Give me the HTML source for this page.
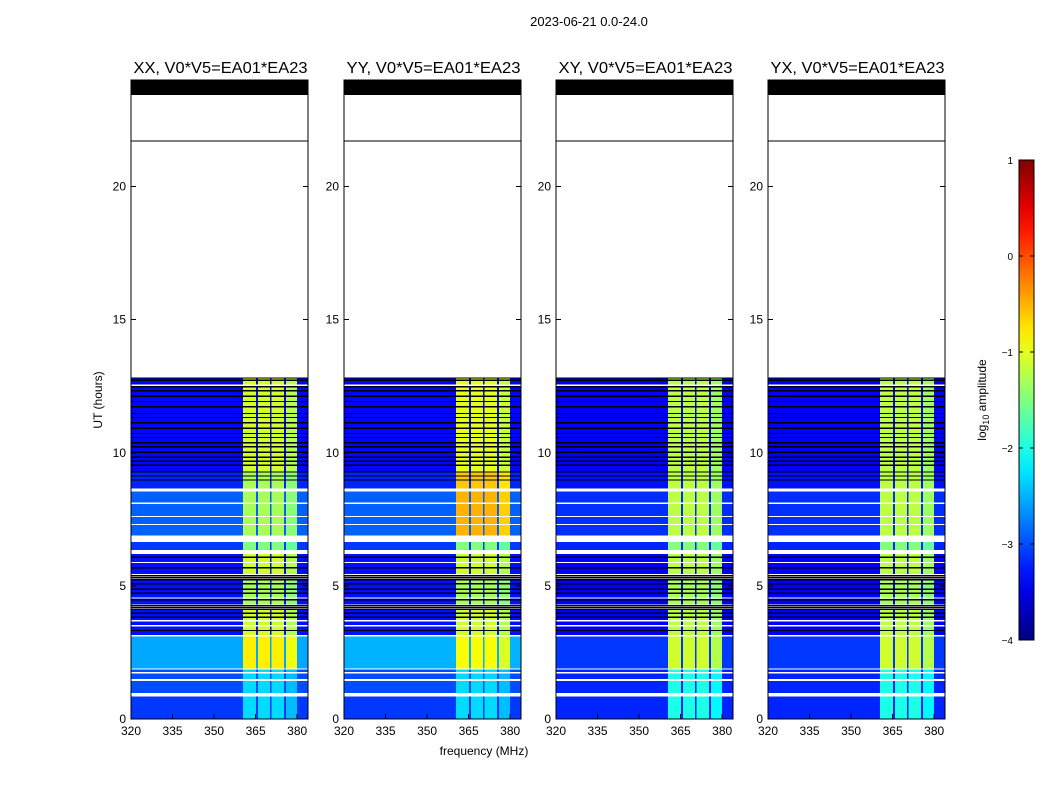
<!DOCTYPE html>
<html><head><meta charset="utf-8">
<style>
body{margin:0;background:#fff;font-family:"Liberation Sans",sans-serif;}
svg text{font-family:"Liberation Sans",sans-serif;}
</style></head>
<body>
<svg id="fig" width="1050" height="800" xmlns="http://www.w3.org/2000/svg" shape-rendering="crispEdges"></svg>
<script>
// ---- data ----
const panelNames = ["XX, V0*V5=EA01*EA23","YY, V0*V5=EA01*EA23","XY, V0*V5=EA01*EA23","YX, V0*V5=EA01*EA23"];
const segStart = [0.0, 0.97, 1.9, 3.15, 4.3, 5.45, 6.35, 6.9, 8.6, 9.3];
const segEnd   = [0.85,1.85, 3.1, 4.1, 5.2, 6.2, 6.65, 8.6, 9.3, 12.8];
const bgXX = [-3.1,-3.0,-2.55,-3.3,-3.3,-3.3,-3.1,-2.9,-3.2,-3.35];
const bgYY = [-3.1,-3.0,-2.5,-3.3,-3.3,-3.3,-3.1,-2.9,-3.2,-3.35];
const bgXY = [-3.2,-3.2,-3.1,-3.4,-3.4,-3.4,-3.2,-3.15,-3.3,-3.4];
const bgYX = [-3.2,-3.2,-3.1,-3.4,-3.4,-3.4,-3.2,-3.15,-3.3,-3.4];
const bandXX = [-2.3,-2.3,-0.8,-1.1,-1.3,-1.1,-1.5,-1.3,-1.3,-1.1];
const bandYY = [-2.3,-2.3,-0.9,-1.1,-1.3,-1.1,-1.5,-0.5,-0.6,-1.0];
const bandXY = [-2.0,-2.0,-1.1,-1.2,-1.3,-1.2,-1.5,-1.2,-1.2,-1.2];
const bandYX = [-2.0,-2.0,-1.1,-1.2,-1.3,-1.2,-1.5,-1.2,-1.2,-1.2];
const bandFreqStart = [360.5, 365.8, 370.8, 375.9];
const bandFreqEnd   = [365.2, 370.2, 375.3, 380.0];
const whiteStart = [0.85, 1.43, 1.7, 6.2, 6.65, 7.28, 7.58, 8.08, 8.55, 3.48, 3.66, 4.52, 5.85, 12.5];
const whiteEnd   = [0.97, 1.5, 1.77, 6.35, 6.9, 7.33, 7.63, 8.13, 8.65, 3.53, 3.71, 4.57, 5.9, 12.56];
const blackLines = [3.3,3.8,3.95,4.1,4.17,4.24,4.45,4.7,4.85,5.05,5.2,5.28,5.36,5.65,6.05,8.95,9.1,9.25,9.5,9.65,9.8,10.0,10.2,10.35,10.55,10.7,10.9,11.1,11.3,11.45,11.7,11.9,12.1,12.3,12.45,12.7];
const xTicks = [320,335,350,365,380];
const yTicks = [0,5,10,15,20];
const cbTicks = [1,0,-1,-2,-3,-4];

// ---- layout ----
const svg = document.getElementById('fig');
const NS = "http://www.w3.org/2000/svg";
const panelX = [131, 344, 556, 768];
const pW = 177, pTop = 80, pBot = 719;
const fMin = 320, fMax = 383.9, hMax = 24;
const bgs = [bgXX,bgYY,bgXY,bgYX], bands = [bandXX,bandYY,bandXY,bandYX];
function el(tag, attrs, parent){const e=document.createElementNS(NS,tag);for(const k in attrs)e.setAttribute(k,attrs[k]);(parent||svg).appendChild(e);return e;}
function jet(v){const t=Math.max(0,Math.min(1,(v+4)/5));const c=x=>Math.round(255*Math.max(0,Math.min(1,1.5-Math.abs(x))));return `rgb(${c(4*t-3)},${c(4*t-2)},${c(4*t-1)})`;}
function yS(h){return pBot-(h/hMax)*(pBot-pTop);}

const title = el('text',{x:589,y:26,'font-size':13,'text-anchor':'middle'});
title.textContent = "2023-06-21 0.0-24.0";



for(let p=0;p<4;p++){
  const x0 = panelX[p];
  const xS = f => x0 + (f-fMin)/(fMax-fMin)*pW;
  const g = el('g',{});
  
  
  for(let i=0;i<segStart.length;i++){
    const y1=yS(segEnd[i]), y2=yS(segStart[i]);
    const r=el('rect',{x:x0,y:y1,width:pW,height:y2-y1,fill:jet(bgs[p][i])},g);
    
    
    for(let b=0;b<bandFreqStart.length;b++){
      const xa=xS(bandFreqStart[b]), xb=xS(bandFreqEnd[b]);
      const br=el('rect',{x:xa,y:y1,width:xb-xa,height:y2-y1,fill:jet(bands[p][i]+(b===3?-0.15:0))},g);
      
      
    }
  }
  for(const h of blackLines){
    const l=el('rect',{x:x0,y:yS(h+0.05),width:pW,height:yS(h)-yS(h+0.05),fill:'#000'},g);
    
    
  }
  for(let i=0;i<whiteStart.length;i++){
    const l=el('rect',{x:x0,y:yS(whiteEnd[i]),width:pW,height:yS(whiteStart[i])-yS(whiteEnd[i]),fill:'#fff'},g);
    
    
  }
  const tb=el('rect',{x:x0,y:yS(24),width:pW,height:yS(23.44)-yS(24),fill:'#000'},g);
  
  
  el('line',{x1:x0,x2:x0+pW,y1:yS(21.7),y2:yS(21.7),stroke:'#000','stroke-width':1},g);
  el('line',{x1:x0,x2:x0+pW,y1:yS(12.8),y2:yS(12.8),stroke:'#000','stroke-width':1},g);
  const fr=el('rect',{x:x0,y:pTop,width:pW,height:pBot-pTop,fill:'none',stroke:'#000','stroke-width':1},g);
  
  
  for(const t of xTicks){
    const x=xS(t);
    el('line',{x1:x,x2:x,y1:pBot,y2:pBot-5,stroke:'#000'},g);
    el('line',{x1:x,x2:x,y1:pTop,y2:pTop+5,stroke:'#000'},g);
    const tx=el('text',{x:x,y:pBot+16,'font-size':12,'text-anchor':'middle'},g);
    tx.textContent=t;
    
    
  }
  for(const t of yTicks){
    const y=yS(t);
    el('line',{x1:x0,x2:x0+5,y1:y,y2:y,stroke:'#000'},g);
    el('line',{x1:x0+pW,x2:x0+pW-5,y1:y,y2:y,stroke:'#000'},g);
    const ty=el('text',{x:x0-5,y:y+4,'font-size':12,'text-anchor':'end'},g);
    ty.textContent=t;
    
    
  }
  const pt=el('text',{x:x0+pW/2+1,y:73,'font-size':16,'text-anchor':'middle',textLength:174,lengthAdjust:'spacingAndGlyphs'},g);
  pt.textContent=panelNames[p];
  
  
}
const yl=el('text',{x:0,y:0,'font-size':12,'text-anchor':'middle',transform:'translate(102,400) rotate(-90)'});
yl.textContent="UT (hours)";


const xl=el('text',{x:484,y:755,'font-size':12,'text-anchor':'middle'});
xl.textContent="frequency (MHz)";



const defs=el('defs',{});
const grad=el('linearGradient',{id:'jetg',x1:0,y1:1,x2:0,y2:0},defs);
for(let i=0;i<=20;i++){el('stop',{offset:i/20,'stop-color':jet(-4+5*i/20)},grad);}
const cb=el('rect',{x:1019,y:160,width:15,height:480,fill:'url(#jetg)',stroke:'#000','stroke-width':1});


for(const t of cbTicks){
  const y=160+(1-t)/5*480;
  el('line',{x1:1019,x2:1023,y1:y,y2:y,stroke:'#000'});
  el('line',{x1:1034,x2:1030,y1:y,y2:y,stroke:'#000'});
  const ct=el('text',{x:1013,y:y+4,'font-size':10,'text-anchor':'end'});
  ct.textContent=t<0?'\u2212'+(-t):t;
  
  
}
const cl=el('text',{x:0,y:0,'font-size':12,'text-anchor':'middle',transform:'translate(986,400) rotate(-90)'});
cl.innerHTML='log<tspan font-size="9" dy="3">10</tspan><tspan dy="-3"> amplitude</tspan>';


</script>
</body></html>
